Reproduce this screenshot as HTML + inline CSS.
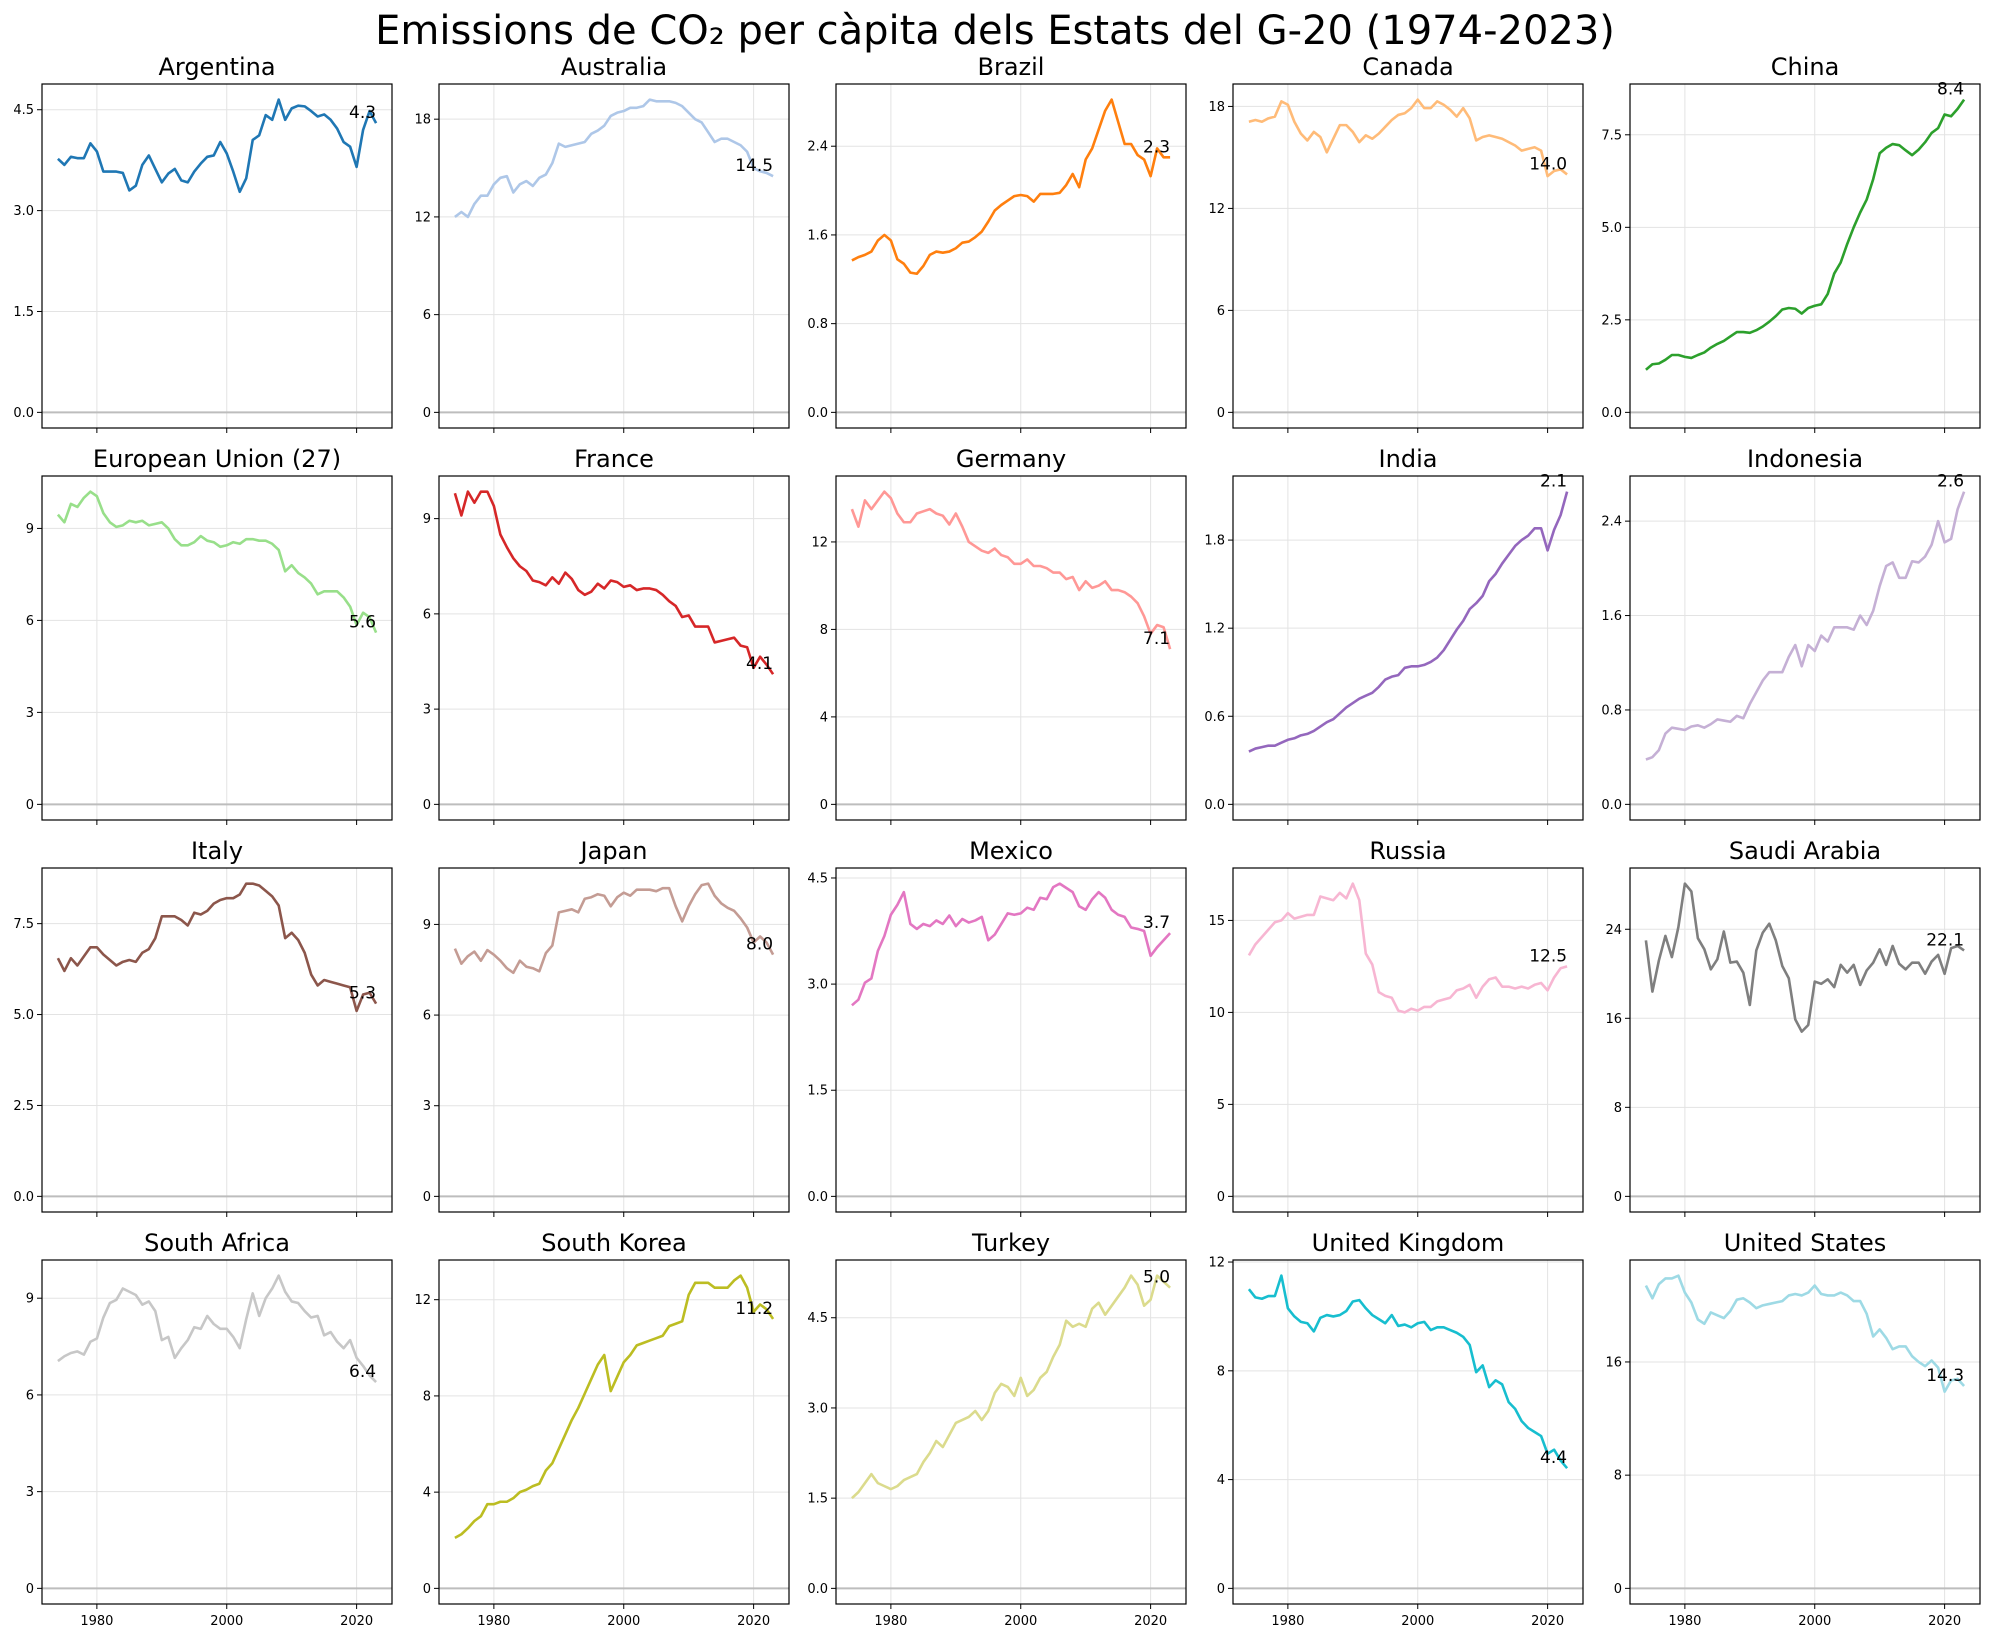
<!DOCTYPE html>
<html><head><meta charset="utf-8">
<style>
html,body{margin:0;padding:0;background:#fff;}
svg{display:block;font-family:"DejaVu Sans","Liberation Sans",sans-serif;}
</style></head>
<body>
<svg id="fig" width="1990" height="1637" viewBox="0 0 1990 1637" xmlns="http://www.w3.org/2000/svg">
<rect width="1990" height="1637" fill="#fff"/>
<text x="995" y="44" font-size="40" text-anchor="middle" fill="#000">Emissions de CO₂ per càpita dels Estats del G-20 (1974-2023)</text>
</svg>
<script>
const years = Array.from({length:50},(_,i)=>1974+i);
const xTickYears = [1980,2000,2020];
const countries = ["Argentina","Australia","Brazil","Canada","China","European Union (27)","France","Germany","India","Indonesia","Italy","Japan","Mexico","Russia","Saudi Arabia","South Africa","South Korea","Turkey","United Kingdom","United States"];
const argentina=[3.77,3.68,3.8,3.78,3.78,4.0,3.88,3.58,3.58,3.58,3.56,3.3,3.37,3.68,3.82,3.62,3.42,3.55,3.62,3.45,3.42,3.58,3.7,3.8,3.82,4.02,3.85,3.58,3.28,3.48,4.05,4.12,4.42,4.35,4.65,4.35,4.52,4.56,4.55,4.48,4.4,4.43,4.35,4.22,4.02,3.95,3.65,4.2,4.48,4.3];
const australia=[12.0,12.3,12.0,12.8,13.3,13.3,14.0,14.4,14.5,13.5,14.0,14.2,13.9,14.4,14.6,15.3,16.5,16.3,16.4,16.5,16.6,17.1,17.3,17.6,18.2,18.4,18.5,18.7,18.7,18.8,19.2,19.1,19.1,19.1,19.0,18.8,18.4,18.0,17.8,17.2,16.6,16.8,16.8,16.6,16.4,16.0,15.0,14.8,14.7,14.5];
const brazil=[1.37,1.40,1.42,1.45,1.55,1.60,1.55,1.38,1.34,1.26,1.25,1.32,1.42,1.45,1.44,1.45,1.48,1.53,1.54,1.58,1.63,1.72,1.82,1.87,1.91,1.95,1.96,1.95,1.90,1.97,1.97,1.97,1.98,2.05,2.15,2.03,2.28,2.38,2.55,2.72,2.82,2.62,2.42,2.42,2.32,2.28,2.13,2.38,2.30,2.30];
const canada=[17.1,17.2,17.1,17.3,17.4,18.3,18.1,17.1,16.4,16.0,16.5,16.2,15.3,16.1,16.9,16.9,16.5,15.9,16.3,16.1,16.4,16.8,17.2,17.5,17.6,17.9,18.4,17.9,17.9,18.3,18.1,17.8,17.4,17.9,17.3,16.0,16.2,16.3,16.2,16.1,15.9,15.7,15.4,15.5,15.6,15.4,13.9,14.2,14.3,14.0];
const china=[1.15,1.3,1.32,1.42,1.55,1.55,1.5,1.47,1.55,1.62,1.75,1.85,1.93,2.05,2.17,2.17,2.15,2.22,2.32,2.45,2.6,2.78,2.82,2.8,2.67,2.82,2.88,2.92,3.2,3.75,4.05,4.55,5.0,5.4,5.75,6.3,7.0,7.15,7.25,7.22,7.08,6.95,7.1,7.3,7.55,7.68,8.05,8.0,8.2,8.45];
const eu27=[9.45,9.2,9.8,9.7,10.0,10.2,10.05,9.5,9.2,9.05,9.1,9.25,9.2,9.25,9.1,9.15,9.2,9.0,8.65,8.45,8.45,8.55,8.75,8.6,8.55,8.4,8.45,8.55,8.5,8.65,8.65,8.6,8.6,8.5,8.3,7.6,7.8,7.55,7.4,7.2,6.85,6.95,6.95,6.95,6.75,6.45,5.85,6.25,6.1,5.6];
const france=[9.8,9.1,9.85,9.5,9.85,9.85,9.4,8.5,8.1,7.75,7.5,7.35,7.05,7.0,6.9,7.15,6.95,7.3,7.1,6.75,6.6,6.7,6.95,6.8,7.05,7.0,6.85,6.9,6.75,6.8,6.8,6.75,6.6,6.4,6.25,5.9,5.95,5.6,5.6,5.6,5.1,5.15,5.2,5.25,5.0,4.95,4.3,4.65,4.4,4.1];
const germany=[13.5,12.7,13.9,13.5,13.9,14.3,14.0,13.3,12.9,12.9,13.3,13.4,13.5,13.3,13.2,12.8,13.3,12.7,12.0,11.8,11.6,11.5,11.7,11.4,11.3,11.0,11.0,11.2,10.9,10.9,10.8,10.6,10.6,10.3,10.4,9.8,10.2,9.9,10.0,10.2,9.8,9.8,9.7,9.5,9.2,8.6,7.8,8.2,8.1,7.1];
const india=[0.36,0.38,0.39,0.4,0.4,0.42,0.44,0.45,0.47,0.48,0.5,0.53,0.56,0.58,0.62,0.66,0.69,0.72,0.74,0.76,0.8,0.85,0.87,0.88,0.93,0.94,0.94,0.95,0.97,1.0,1.05,1.12,1.19,1.25,1.33,1.37,1.42,1.52,1.57,1.64,1.7,1.76,1.8,1.83,1.88,1.88,1.73,1.87,1.97,2.13];
const indonesia=[0.38,0.4,0.46,0.6,0.65,0.64,0.63,0.66,0.67,0.65,0.68,0.72,0.71,0.7,0.75,0.73,0.85,0.95,1.05,1.12,1.12,1.12,1.25,1.35,1.17,1.35,1.3,1.43,1.38,1.5,1.5,1.5,1.48,1.6,1.52,1.64,1.85,2.02,2.05,1.92,1.92,2.06,2.05,2.1,2.2,2.4,2.22,2.25,2.5,2.65];
const italy=[6.55,6.2,6.55,6.35,6.6,6.85,6.85,6.65,6.5,6.35,6.45,6.5,6.45,6.7,6.8,7.1,7.7,7.7,7.7,7.6,7.45,7.8,7.75,7.85,8.05,8.15,8.2,8.2,8.3,8.6,8.6,8.55,8.4,8.25,8.0,7.1,7.25,7.05,6.7,6.1,5.8,5.95,5.9,5.85,5.8,5.75,5.1,5.55,5.6,5.3];
const japan=[8.2,7.7,7.95,8.1,7.8,8.15,8.0,7.8,7.55,7.4,7.8,7.6,7.55,7.45,8.05,8.3,9.4,9.45,9.5,9.4,9.85,9.9,10.0,9.95,9.6,9.9,10.05,9.95,10.15,10.15,10.15,10.1,10.2,10.2,9.6,9.1,9.6,10.0,10.3,10.35,9.95,9.7,9.55,9.45,9.2,8.9,8.4,8.6,8.4,8.0];
const mexico=[2.7,2.78,3.02,3.08,3.47,3.68,3.98,4.12,4.3,3.85,3.78,3.85,3.82,3.9,3.85,3.97,3.82,3.92,3.87,3.9,3.95,3.62,3.7,3.85,4.0,3.98,4.0,4.08,4.05,4.22,4.2,4.37,4.42,4.36,4.3,4.1,4.05,4.2,4.3,4.22,4.05,3.98,3.95,3.8,3.78,3.75,3.4,3.52,3.62,3.72];
const russia=[13.1,13.7,14.1,14.5,14.9,15.0,15.4,15.1,15.2,15.3,15.3,16.3,16.2,16.1,16.5,16.2,17.0,16.1,13.2,12.6,11.1,10.9,10.8,10.1,10.0,10.2,10.1,10.3,10.3,10.6,10.7,10.8,11.2,11.3,11.5,10.8,11.4,11.8,11.9,11.4,11.4,11.3,11.4,11.3,11.5,11.6,11.2,11.9,12.4,12.5];
const saudiArabia=[23.0,18.4,21.2,23.4,21.5,24.2,28.1,27.4,23.2,22.2,20.4,21.3,23.8,21.0,21.1,20.1,17.2,22.1,23.7,24.5,23.0,20.7,19.6,15.9,14.8,15.4,19.3,19.1,19.5,18.8,20.8,20.1,20.8,19.0,20.3,21.0,22.2,20.8,22.5,20.9,20.4,21.0,21.0,20.0,21.1,21.7,20.0,22.3,22.5,22.1];
const southAfrica=[7.05,7.2,7.3,7.35,7.25,7.65,7.75,8.4,8.85,8.95,9.3,9.2,9.1,8.8,8.9,8.6,7.7,7.8,7.15,7.45,7.7,8.1,8.05,8.45,8.2,8.05,8.05,7.8,7.45,8.35,9.15,8.45,9.0,9.3,9.7,9.2,8.9,8.85,8.6,8.4,8.45,7.85,7.95,7.65,7.45,7.7,7.15,6.9,6.6,6.4];
const southKorea=[2.1,2.25,2.5,2.8,3.0,3.5,3.5,3.6,3.6,3.75,4.0,4.1,4.25,4.35,4.9,5.2,5.8,6.4,7.0,7.5,8.1,8.7,9.3,9.7,8.2,8.8,9.4,9.7,10.1,10.2,10.3,10.4,10.5,10.9,11.0,11.1,12.2,12.7,12.7,12.7,12.5,12.5,12.5,12.8,13.0,12.5,11.5,11.8,11.6,11.2];
const turkey=[1.5,1.6,1.75,1.9,1.75,1.7,1.65,1.7,1.8,1.85,1.9,2.1,2.25,2.45,2.35,2.55,2.75,2.8,2.85,2.95,2.8,2.95,3.25,3.4,3.35,3.2,3.5,3.2,3.3,3.5,3.6,3.85,4.05,4.45,4.35,4.4,4.35,4.65,4.75,4.55,4.7,4.85,5.0,5.2,5.05,4.7,4.8,5.2,5.1,5.0];
const unitedKingdom=[11.0,10.7,10.65,10.75,10.75,11.5,10.3,10.0,9.8,9.75,9.45,9.95,10.05,10.0,10.05,10.2,10.55,10.6,10.3,10.05,9.9,9.75,10.05,9.65,9.7,9.6,9.75,9.8,9.5,9.6,9.6,9.5,9.4,9.25,8.95,7.95,8.2,7.4,7.65,7.5,6.85,6.6,6.15,5.9,5.75,5.6,4.95,5.1,4.7,4.42];
const unitedStates=[21.4,20.5,21.5,21.9,21.9,22.1,20.9,20.2,19.0,18.7,19.5,19.3,19.1,19.6,20.4,20.5,20.2,19.8,20.0,20.1,20.2,20.3,20.7,20.8,20.7,20.9,21.4,20.8,20.7,20.7,20.9,20.7,20.3,20.3,19.4,17.8,18.3,17.7,16.9,17.1,17.1,16.4,16.0,15.7,16.1,15.6,13.9,14.7,14.8,14.3];
const yTickLabels = [
 ["0.0","1.5","3.0","4.5"],["0","6","12","18"],["0.0","0.8","1.6","2.4"],["0","6","12","18"],["0.0","2.5","5.0","7.5"],
 ["0","3","6","9"],["0","3","6","9"],["0","4","8","12"],["0.0","0.6","1.2","1.8"],["0.0","0.8","1.6","2.4"],
 ["0.0","2.5","5.0","7.5"],["0","3","6","9"],["0.0","1.5","3.0","4.5"],["0","5","10","15"],["0","8","16","24"],
 ["0","3","6","9"],["0","4","8","12"],["0.0","1.5","3.0","4.5"],["0","4","8","12"],["0","8","16"]
];
const seriesList=[argentina,australia,brazil,canada,china,eu27,france,germany,india,indonesia,italy,japan,mexico,russia,saudiArabia,southAfrica,southKorea,turkey,unitedKingdom,unitedStates];
const colors=["#1f77b4","#aec7e8","#ff7f0e","#ffbb78","#2ca02c","#98df8a","#d62728","#ff9896","#9467bd","#c5b0d5","#8c564b","#c49c94","#e377c2","#f7b6d2","#7f7f7f","#c7c7c7","#bcbd22","#dbdb8d","#17becf","#9edae5"];

const NS="http://www.w3.org/2000/svg";
const svg=document.getElementById('fig');
function mk(tag,attrs,parent){const e=document.createElementNS(NS,tag);for(const k in attrs)e.setAttribute(k,attrs[k]);(parent||svg).appendChild(e);return e;}
function slug(s){return s.toLowerCase().replace(/[^a-z0-9]+/g,'-').replace(/-+$/,'');}

const W=350,H=344,x0=1971.55,x1=2025.45;
countries.forEach((name,i)=>{
  const col=i%5,row=Math.floor(i/5);
  const L=42+397*col, T=84+392*row;
  const data=seriesList[i];
  const M=Math.max(...data);
  const y0=-0.05*M,y1=1.05*M;
  const sx=v=>L+(v-x0)/(x1-x0)*W;
  const sy=v=>T+H-(v-y0)/(y1-y0)*H;
  const g=mk('g',{});
  
  
  const t=mk('text',{x:L+W/2,y:T-9,'font-size':24,'text-anchor':'middle',fill:'#000'},g);
  
  
  t.textContent=name;
  xTickYears.forEach(yr=>{
    const gl=mk('line',{x1:sx(yr),x2:sx(yr),y1:T,y2:T+H,stroke:'#e3e3e3','stroke-width':1},g);
    
    
    const tk=mk('line',{x1:sx(yr),x2:sx(yr),y1:T+H,y2:T+H+5,stroke:'#000','stroke-width':1},g);
    
    
    if(row===3){
      const tl=mk('text',{x:sx(yr),y:T+H+21,'font-size':13,'text-anchor':'middle',fill:'#000'},g);
      
      
      tl.textContent=yr;
    }
  });
  yTickLabels[i].forEach(lbl=>{
    const v=parseFloat(lbl),yy=sy(v);
    const gl=mk('line',{x1:L,x2:L+W,y1:yy,y2:yy,stroke:'#e3e3e3','stroke-width':1},g);
    
    
    const tk=mk('line',{x1:L-5,x2:L,y1:yy,y2:yy,stroke:'#000','stroke-width':1},g);
    
    
    const tl=mk('text',{x:L-8,y:yy+4.5,'font-size':13,'text-anchor':'end',fill:'#000'},g);
    
    
    tl.textContent=lbl;
  });
  const zl=mk('line',{x1:L,x2:L+W,y1:sy(0),y2:sy(0),stroke:'#bdbdbd','stroke-width':2},g);
  
  
  const d=data.map((v,k)=>(k?'L':'M')+sx(years[k]).toFixed(2)+','+sy(v).toFixed(2)).join(' ');
  const p=mk('path',{d:d,fill:'none',stroke:colors[i],'stroke-width':2.6,'stroke-linejoin':'round','stroke-linecap':'butt'},g);
  
  
  const last=data[data.length-1];
  const an=mk('text',{x:sx(years[years.length-1]),y:sy(last)-5,'font-size':17,'text-anchor':'end',fill:'#000'},g);
  
  
  an.textContent=last.toFixed(1);
  const fr=mk('rect',{x:L,y:T,width:W,height:H,fill:'none',stroke:'#000','stroke-width':1.2},g);
  
  
});
</script>
</body></html>
